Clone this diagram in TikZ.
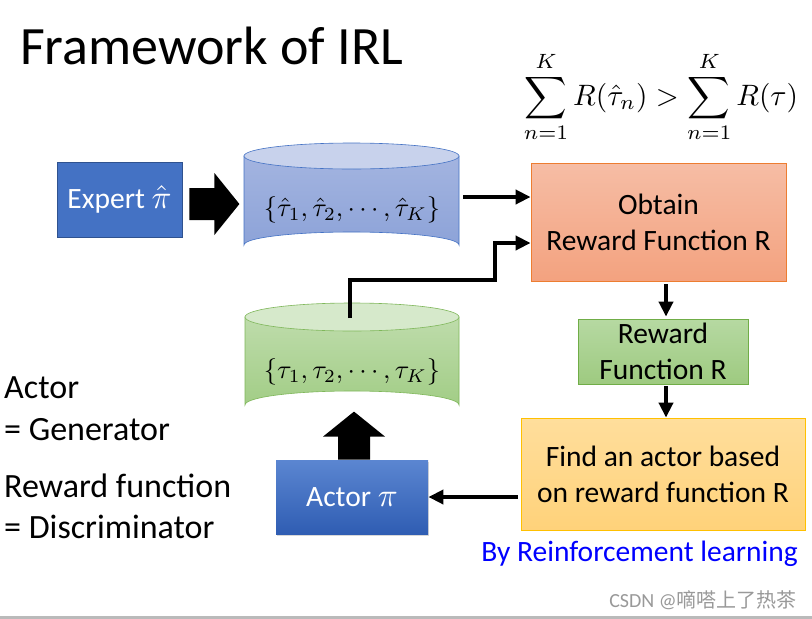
\documentclass[tikz,border=0pt]{standalone}
\usepackage{graphicx}
\usepackage{fontspec}
\setmainfont{Carlito}
\newfontfamily\cjkfont{Noto Sans CJK SC}
\usetikzlibrary{arrows.meta,calc,shadows}
\newcommand\bigmath[2]{\scalebox{#1}{\normalsize$#2$}}
\definecolor{expblue}{HTML}{4472C4}
\definecolor{expedge}{HTML}{2F528F}
\definecolor{bcyltop}{HTML}{C8D2EC}
\definecolor{bcylA}{HTML}{A3B4E0}
\definecolor{bcylB}{HTML}{8DA3D8}
\definecolor{gcyltop}{HTML}{D6E9CB}
\definecolor{gcylA}{HTML}{BEDCAB}
\definecolor{gcylB}{HTML}{A2CD86}
\definecolor{gedge}{HTML}{7FB75A}
\definecolor{obtA}{HTML}{F6BDA5}
\definecolor{obtB}{HTML}{F3A27F}
\definecolor{obtedge}{HTML}{ED7D31}
\definecolor{rewA}{HTML}{B6D9A2}
\definecolor{rewB}{HTML}{9ECA80}
\definecolor{rewedge}{HTML}{70AD47}
\definecolor{findA}{HTML}{FFDE9C}
\definecolor{findB}{HTML}{FFD27A}
\definecolor{findedge}{HTML}{FFC000}
\definecolor{actA}{HTML}{5B86D1}
\definecolor{actB}{HTML}{2F5DB3}
\definecolor{rlblue}{HTML}{0000FF}
\begin{document}
\begin{tikzpicture}[x=1pt,y=-1pt,
  box/.style={draw, line width=0.8pt, inner sep=0pt, align=center, font=\fontsize{29.5}{36}\selectfont},
  arr/.style={line width=4pt, -{Triangle[length=15pt,width=14pt]}},
  plain/.style={inner sep=0pt, font=\fontsize{34}{40}\selectfont}]
\useasboundingbox (0,0) rectangle (812,619);
\fill[white] (0,0) rectangle (812,619);
\fill[black!27] (0,616) rectangle (812,619);

% title
\node[inner sep=0pt, anchor=base west, font=\fontsize{54}{64}\selectfont] (title) at (20,64) {Framework of IRL};
\node[inner sep=0pt] (ineq) at (661,97) {\bigmath{2.95}{\displaystyle\sum_{n=1}^{K} R(\hat{\tau}_n) > \sum_{n=1}^{K} R(\tau)}};

% blue cylinder
\draw[draw=expblue, line width=0.6pt, top color=bcylA, bottom color=bcylB]
  (244,156) -- (244,245) arc[start angle=180, end angle=360, x radius=107.5, y radius=13] -- (459,156) -- cycle;
\draw[draw=expblue, line width=0.6pt, fill=bcyltop] (351.5,156) ellipse[x radius=107.5, y radius=13];
\node[inner sep=0pt, minimum width=215pt, minimum height=115pt] (bcyl) at (351.5,200.5) {};
\node[inner sep=0pt] (bset) at (352,210) {\bigmath{2.65}{\{\hat{\tau}_1,\hat{\tau}_2,\cdots,\hat{\tau}_K\}}};

% green cylinder
\draw[draw=gedge, line width=0.6pt, top color=gcylA, bottom color=gcylB]
  (245,317) -- (245,405) arc[start angle=180, end angle=360, x radius=107, y radius=14] -- (459,317) -- cycle;
\draw[draw=gedge, line width=0.6pt, fill=gcyltop] (352,317) ellipse[x radius=107, y radius=14];
\node[inner sep=0pt, minimum width=214pt, minimum height=117pt] (gcyl) at (352,361.5) {};
\node[inner sep=0pt] (gset) at (352,372) {\bigmath{2.65}{\{\tau_1,\tau_2,\cdots,\tau_K\}}};
\coordinate (gtop) at (350,318);

% boxes
\node[box, fill=expblue, draw=expedge, text=white, minimum width=125pt, minimum height=75pt] (expert) at (119.5,199.5) {Expert \bigmath{3.3}{\hat{\pi}}};
\node[box, top color=obtA, bottom color=obtB, draw=obtedge, minimum width=255pt, minimum height=118pt] (obtain) at (658.5,222) {Obtain\\Reward Function R};
\node[box, top color=rewA, bottom color=rewB, draw=rewedge, minimum width=170pt, minimum height=65pt] (reward) at (663,351.5) {Reward\\Function R};
\node[box, top color=findA, bottom color=findB, draw=findedge, minimum width=284pt, minimum height=112pt] (find) at (663,474) {Find an actor based\\on reward function R};
\node[box, top color=actA, bottom color=actB, draw=none, text=white, minimum width=152pt, minimum height=74pt,
  drop shadow={opacity=0.3, shadow xshift=1pt, shadow yshift=-2pt}] (actor) at (352,497) {Actor \bigmath{3.3}{\pi}};

% block arrow expert -> blue cylinder
\coordinate (ea) at ($(expert.east)+(7,4.5)$);
\fill[black] ($(ea)+(0,-16)$) -- ++(25,0) -- ++(0,-15) -- ($(ea)+(50,0)$) -- ($(ea)+(25,31)$) -- ++(0,-15) -- ($(ea)+(0,16)$) -- cycle;

% block arrow actor -> green cylinder
\coordinate (aa) at ($(actor.north)+(2,0)$);
\fill[black] ($(aa)+(-16,0)$) -- ++(0,-23) -- ++(-15,0) -- ($(aa)+(0,-48)$) -- ($(aa)+(31,-23)$) -- ++(-15,0) -- ($(aa)+(16,0)$) -- cycle;

% connectors
\coordinate (elbow) at (495,280);
\coordinate (fw) at ($(find.west)+(-3,0)$);
\draw[arr] ($(bcyl.east)+(4,-3.5)$) -- ($(obtain.west)+(0,-25)$);
\draw[arr] (gtop) |- (elbow) |- ($(obtain.west)+(0,21)$);
\draw[arr] ($(obtain.south)+(7.5,3)$) -- ($(reward.north)+(3,-2)$);
\draw[arr] ($(reward.south)+(3,2)$) -- ($(find.north)+(3,0)$);
\draw[arr] (fw |- actor.east) -- (actor.east);

% side texts
\node[plain, anchor=base west] (t1) at (4,398) {Actor};
\node[plain, anchor=base west] (t2) at (4,440) {= Generator};
\node[plain, anchor=base west] (t3) at (4,497) {Reward function};
\node[plain, anchor=base west] (t4) at (4,538) {= Discriminator};
\node[inner sep=0pt, anchor=base east, text=rlblue, font=\fontsize{29.5}{34}\selectfont] (rl) at (798,561) {By Reinforcement learning};
\node[inner sep=0pt, anchor=base east, text=black!40, font=\fontsize{20}{22}\selectfont] (wm) at (797,607) {CSDN @{\cjkfont 嘀嗒上了热茶}};
\end{tikzpicture}
\end{document}
